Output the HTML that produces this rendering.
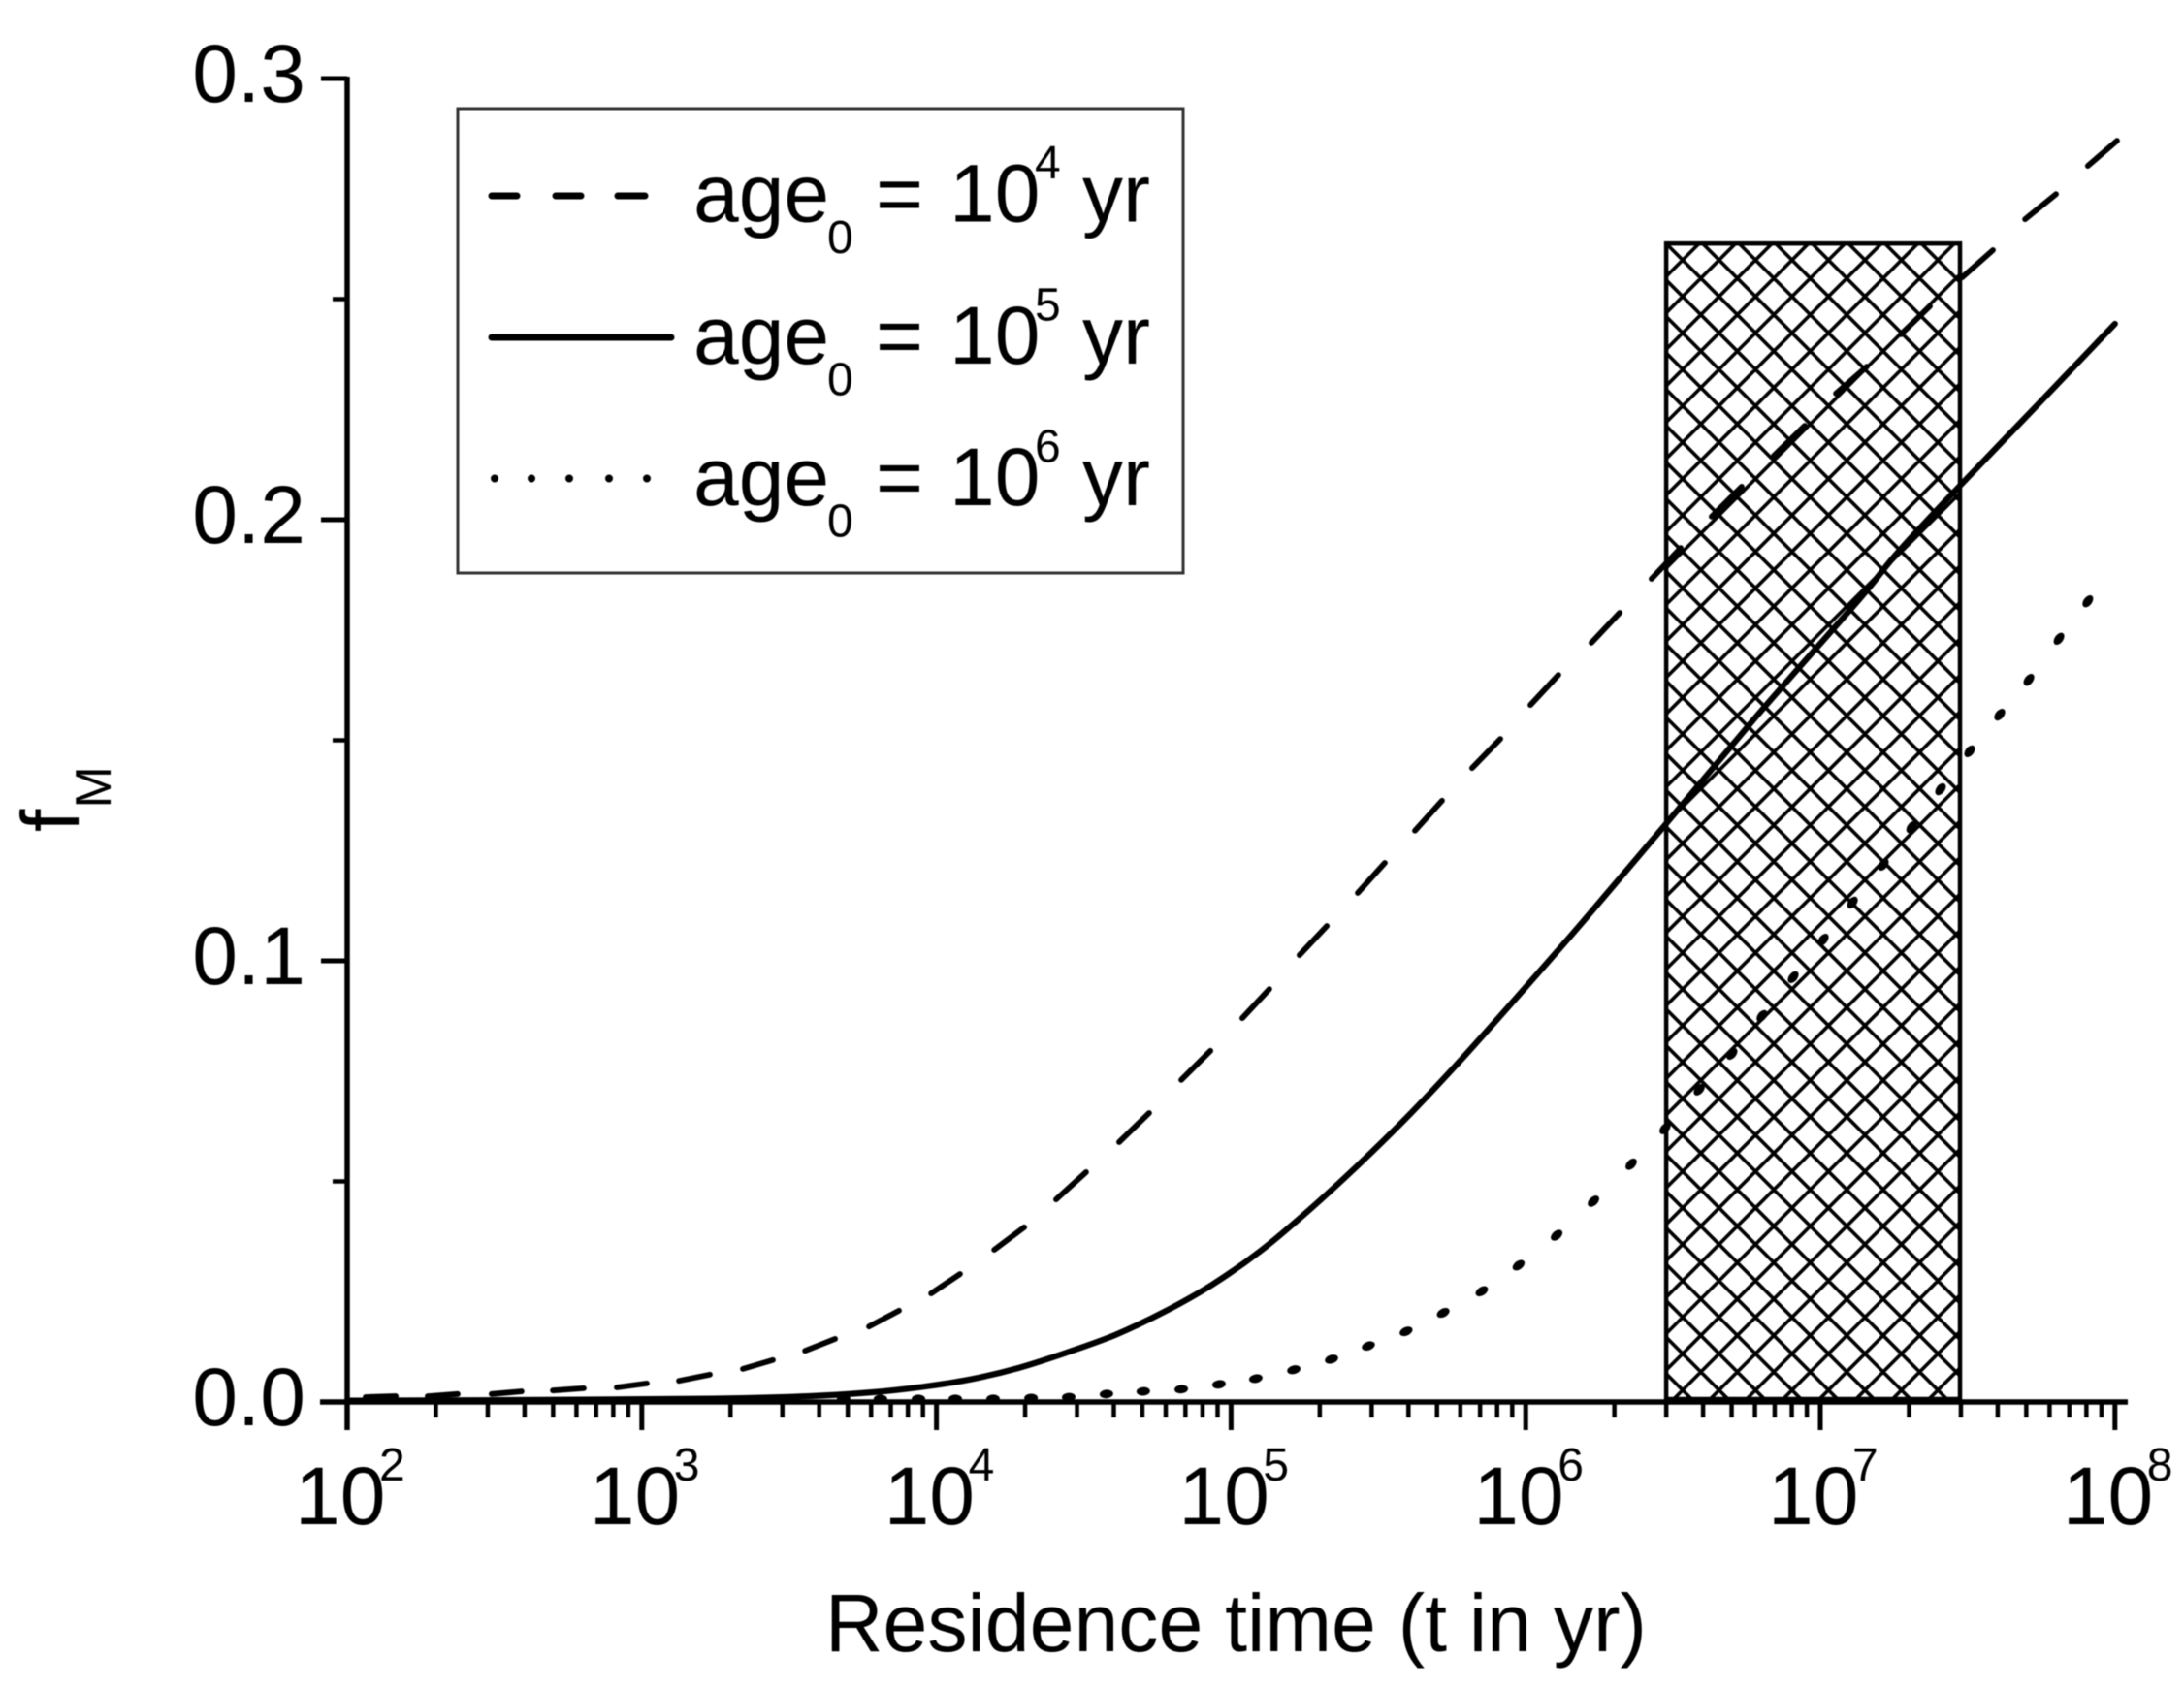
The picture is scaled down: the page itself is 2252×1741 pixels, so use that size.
<!DOCTYPE html>
<html lang="en">
<head>
<meta charset="utf-8">
<title>Residence time chart</title>
<style>
html,body{margin:0;padding:0;background:#fff;}
svg{display:block;filter:blur(0.6px);}
text{font-family:"Liberation Sans",Arial,sans-serif;fill:#000;}
</style>
</head>
<body>
<svg id="chart" xmlns="http://www.w3.org/2000/svg" width="2252" height="1741" viewBox="0 0 2252 1741">
  <rect x="0" y="0" width="2252" height="1741" fill="#fff"/>
  <g id="series-layer"></g>
  <g id="hatch-layer"></g>
  <g id="axis-layer"></g>

  <text x="851" y="1703" font-size="84" textLength="847" lengthAdjust="spacingAndGlyphs">Residence time (t in yr)</text>
  <g>
    <text transform="translate(81,858) rotate(-90)" font-size="84">f</text>
    <text transform="translate(114,833.5) rotate(-90)" font-size="52">M</text>
  </g>

  <g>
    <rect x="472" y="112" width="748" height="479" fill="#fff" stroke="#333" stroke-width="3"/>
    <g>
      <path d="M507 202H533M573 202H599M637 202H665" stroke="#000" stroke-width="7" stroke-linecap="round" fill="none"/>
      <text font-size="84"><tspan x="715" y="228.5">age</tspan><tspan x="853" y="261" font-size="48">0</tspan><tspan x="903" y="228.5">=</tspan><tspan x="979" y="228.5">10</tspan><tspan x="1067" y="184" font-size="48">4</tspan><tspan x="1116" y="228.5">yr</tspan></text>
    </g>
    <g>
      <path d="M507 348H692" stroke="#000" stroke-width="7" stroke-linecap="round" fill="none"/>
      <text font-size="84"><tspan x="715" y="375">age</tspan><tspan x="853" y="407.5" font-size="48">0</tspan><tspan x="903" y="375">=</tspan><tspan x="979" y="375">10</tspan><tspan x="1067" y="330.5" font-size="48">5</tspan><tspan x="1116" y="375">yr</tspan></text>
    </g>
    <g>
      <path d="M510 493.5h.01M548 493.5h.01M587 493.5h.01M628 493.5h.01M667 493.5h.01" stroke="#000" stroke-width="8" stroke-linecap="round" fill="none"/>
      <text font-size="84"><tspan x="715" y="521">age</tspan><tspan x="853" y="553.5" font-size="48">0</tspan><tspan x="903" y="521">=</tspan><tspan x="979" y="521">10</tspan><tspan x="1067" y="476.5" font-size="48">6</tspan><tspan x="1116" y="521">yr</tspan></text>
    </g>
  </g>
</svg>

<script>
// ---- Axis data ----
const xMajorExponents = [2, 3, 4, 5, 6, 7, 8];
const xMinorMultipliers = [2, 3, 4, 5, 6, 7, 8, 9];
const yMajorTicks = [0, 0.1, 0.2, 0.3];
const yMajorLabels = ["0.0", "0.1", "0.2", "0.3"];
const yMinorTicks = [0.05, 0.15, 0.25];

// ---- Observation window (hatched band) ----
const bandLogTime = [6.477, 7.474];
const bandFm = [0, 0.2626];

// ---- age0 = 10^4 yr, dashed: each consecutive pair is one drawn dash ----
const dashedLogTime = [2.0625, 2.165, 2.273, 2.375, 2.490, 2.592, 2.698, 2.803, 2.915, 3.017, 3.126, 3.231, 3.343, 3.445, 3.554, 3.656, 3.771, 3.873, 3.982, 4.080, 4.196, 4.298, 4.406, 4.508, 4.620, 4.722, 4.831, 4.930, 5.038, 5.130, 5.232, 5.325, 5.430, 5.522, 5.624, 5.716, 5.818, 5.914, 6.016, 6.111, 6.223, 6.319, 6.427, 6.526, 6.631, 6.733, 6.842, 6.947, 7.053, 7.158, 7.273, 7.372, 7.481, 7.586, 7.695, 7.800, 7.908, 8.007];
const dashedFm = [0.0011, 0.0013, 0.0013, 0.0018, 0.0018, 0.0024, 0.0026, 0.0031, 0.0033, 0.0042, 0.0048, 0.0062, 0.0075, 0.0095, 0.0116, 0.0143, 0.0171, 0.0207, 0.0246, 0.0290, 0.0345, 0.0396, 0.0459, 0.0521, 0.0589, 0.0655, 0.0730, 0.0796, 0.0870, 0.0936, 0.1013, 0.1079, 0.1154, 0.1222, 0.1295, 0.1363, 0.1437, 0.1503, 0.1580, 0.1648, 0.1721, 0.1789, 0.1866, 0.1936, 0.2007, 0.2075, 0.2145, 0.2213, 0.2286, 0.2347, 0.2420, 0.2484, 0.2549, 0.2611, 0.2681, 0.2738, 0.2802, 0.2859];

// ---- age0 = 10^5 yr, solid ----
const solidLogTime = [2.0, 2.467, 2.961, 3.290, 3.564, 3.784, 3.949, 4.113, 4.278, 4.442, 4.607, 4.772, 4.936, 5.101, 5.265, 5.430, 5.595, 5.759, 5.907, 6.055, 6.197, 6.473, 6.760, 6.898, 7.138, 7.267, 7.471, 7.734, 8.0];
const solidFm = [0.0003, 0.0004, 0.0006, 0.0008, 0.0013, 0.0022, 0.0034, 0.0051, 0.0077, 0.0112, 0.0152, 0.0204, 0.0266, 0.0343, 0.0435, 0.0536, 0.0644, 0.0760, 0.0870, 0.0982, 0.1091, 0.1308, 0.1536, 0.1642, 0.1824, 0.1929, 0.2075, 0.2258, 0.2444];

// ---- age0 = 10^6 yr, dotted: each pair is one drawn dot ----
const dottedLogTime = [3.685, 3.810, 3.939, 4.064, 4.192, 4.321, 4.449, 4.577, 4.702, 4.831, 4.959, 5.084, 5.213, 5.341, 5.466, 5.594, 5.720, 5.851, 5.976, 6.105, 6.230, 6.358, 6.473, 6.589, 6.700, 6.802, 6.908, 7.010, 7.109, 7.214, 7.310, 7.408, 7.507, 7.609, 7.708, 7.810, 7.908];
const dottedFm = [0.0007, 0.0007, 0.0007, 0.0007, 0.0007, 0.0009, 0.0011, 0.0018, 0.0024, 0.0029, 0.0040, 0.0053, 0.0073, 0.0097, 0.0127, 0.0160, 0.0202, 0.0251, 0.0310, 0.0378, 0.0455, 0.0539, 0.0620, 0.0708, 0.0789, 0.0875, 0.0963, 0.1048, 0.1132, 0.1218, 0.1303, 0.1389, 0.1475, 0.1558, 0.1637, 0.1730, 0.1815];

// ---- Axis functions ----
function xScale(logT) { return 358 + (logT - 2) * 303.8; }
function yScale(f) { return 1446 - f * 4550; }

const NS = "http://www.w3.org/2000/svg";
function make(tag, parent) {
  const el = document.createElementNS(NS, tag);
  parent.appendChild(el);
  return el;
}
const seriesLayer = document.getElementById("series-layer");
const hatchLayer = document.getElementById("hatch-layer");
const axisLayer = document.getElementById("axis-layer");

// ---- Dashed series ----
const dashedGroup = make("g", seriesLayer);


for (let i = 0; i + 1 < dashedLogTime.length; i += 2) {
  const dash = make("line", dashedGroup);
  
  
  dash.setAttribute("x1", xScale(dashedLogTime[i]));
  dash.setAttribute("y1", yScale(dashedFm[i]));
  dash.setAttribute("x2", xScale(dashedLogTime[i + 1]));
  dash.setAttribute("y2", yScale(dashedFm[i + 1]));
  dash.setAttribute("stroke", "#000");
  dash.setAttribute("stroke-width", "5.8");
  dash.setAttribute("stroke-linecap", "round");
}

// ---- Solid series (smooth curve through the read points) ----
const solidPts = solidLogTime.map((t, i) => [xScale(t), yScale(solidFm[i])]);
let solidD = "M" + solidPts[0][0] + " " + solidPts[0][1];
for (let i = 0; i < solidPts.length - 1; i++) {
  const p0 = solidPts[Math.max(i - 1, 0)];
  const p1 = solidPts[i];
  const p2 = solidPts[i + 1];
  const p3 = solidPts[Math.min(i + 2, solidPts.length - 1)];
  const c1x = p1[0] + (p2[0] - p0[0]) / 6;
  const c1y = p1[1] + (p2[1] - p0[1]) / 6;
  const c2x = p2[0] - (p3[0] - p1[0]) / 6;
  const c2y = p2[1] - (p3[1] - p1[1]) / 6;
  solidD += "C" + c1x + " " + c1y + " " + c2x + " " + c2y + " " + p2[0] + " " + p2[1];
}
const solidPath = make("path", seriesLayer);


solidPath.setAttribute("d", solidD);
solidPath.setAttribute("fill", "none");
solidPath.setAttribute("stroke", "#000");
solidPath.setAttribute("stroke-width", "6.2");
solidPath.setAttribute("stroke-linecap", "round");
solidPath.setAttribute("stroke-linejoin", "round");

// ---- Dotted series ----
const dottedGroup = make("g", seriesLayer);


dottedLogTime.forEach((t, i) => {
  const cx = xScale(t);
  const cy = yScale(dottedFm[i]);
  const a = Math.max(i - 1, 0);
  const b = Math.min(i + 1, dottedLogTime.length - 1);
  const angle = Math.atan2(yScale(dottedFm[b]) - yScale(dottedFm[a]), xScale(dottedLogTime[b]) - xScale(dottedLogTime[a])) * 180 / Math.PI;
  const dot = make("ellipse", dottedGroup);
  
  
  dot.setAttribute("cx", cx);
  dot.setAttribute("cy", cy);
  dot.setAttribute("rx", "7");
  dot.setAttribute("ry", "4.4");
  dot.setAttribute("fill", "#000");
  dot.setAttribute("transform", "rotate(" + angle + " " + cx + " " + cy + ")");
});

// ---- Hatched band ----
const bandLeft = xScale(bandLogTime[0]);
const bandRight = xScale(bandLogTime[1]);
const bandTop = yScale(bandFm[1]);
const bandBottom = yScale(bandFm[0]);
const clip = make("clipPath", hatchLayer);
clip.setAttribute("id", "band-clip");
const clipRect = make("rect", clip);
clipRect.setAttribute("x", bandLeft);
clipRect.setAttribute("y", bandTop);
clipRect.setAttribute("width", bandRight - bandLeft);
clipRect.setAttribute("height", bandBottom - bandTop);
const hatchPeriod = 37.6;
const hatchX0 = 1739.2;
const hatchY0 = 272.4;
const spanH = bandBottom - bandTop;
let hatchD = "";
for (let k = -60; k <= 60; k++) {
  const sx = hatchX0 + k * hatchPeriod;
  hatchD += "M" + (sx - 100) + " " + (hatchY0 - 100) + "L" + (sx + spanH + 100) + " " + (hatchY0 + spanH + 100);
  hatchD += "M" + (sx + spanH + 100) + " " + (hatchY0 - 100) + "L" + (sx - 100) + " " + (hatchY0 + spanH + 100);
}
const hatch = make("path", hatchLayer);


hatch.setAttribute("d", hatchD);
hatch.setAttribute("clip-path", "url(#band-clip)");
hatch.setAttribute("stroke", "#000");
hatch.setAttribute("stroke-width", "3.6");
hatch.setAttribute("fill", "none");
const bandBox = make("rect", hatchLayer);


bandBox.setAttribute("x", bandLeft);
bandBox.setAttribute("y", bandTop);
bandBox.setAttribute("width", bandRight - bandLeft);
bandBox.setAttribute("height", bandBottom - bandTop - 3);
bandBox.setAttribute("fill", "none");
bandBox.setAttribute("stroke", "#000");
bandBox.setAttribute("stroke-width", "4.5");

// ---- Axes ----
function axisLine(x1, y1, x2, y2, w) {
  const l = make("line", axisLayer);
  l.setAttribute("x1", x1);
  l.setAttribute("y1", y1);
  l.setAttribute("x2", x2);
  l.setAttribute("y2", y2);
  l.setAttribute("stroke", "#000");
  l.setAttribute("stroke-width", w);
  return l;
}
const yAxisLine = axisLine(358, 79, 358, 1475, 5.5);


const xAxisLine = axisLine(330, 1446, 2194, 1446, 5.5);



yMajorTicks.forEach((v, i) => {
  const y = yScale(v);
  const tick = axisLine(331, y, 358, y, 5);
  
  
  const label = make("text", axisLayer);
  
  
  label.setAttribute("x", 315);
  label.setAttribute("y", y + 24);
  label.setAttribute("font-size", "84");
  label.setAttribute("text-anchor", "end");
  label.textContent = yMajorLabels[i];
});
yMinorTicks.forEach(v => {
  const y = yScale(v);
  const tick = axisLine(343, y, 358, y, 4.5);
  
  
});
xMajorExponents.forEach(e => {
  const x = xScale(e);
  const tick = axisLine(x, 1446, x, 1475, 5);
  
  
  const label = make("text", axisLayer);
  
  
  label.setAttribute("font-size", "84");
  const base = make("tspan", label);
  base.setAttribute("x", x - 54);
  base.setAttribute("y", 1572);
  base.textContent = "10";
  const sup = make("tspan", label);
  sup.setAttribute("x", x + 33);
  sup.setAttribute("y", 1527);
  sup.setAttribute("font-size", "48");
  sup.textContent = String(e);
  if (e < xMajorExponents[xMajorExponents.length - 1]) {
    xMinorMultipliers.forEach(m => {
      const mx = xScale(e + Math.log10(m));
      const minor = axisLine(mx, 1446, mx, 1462, 4.5);
      
      
    });
  }
});
</script>
</body>
</html>
